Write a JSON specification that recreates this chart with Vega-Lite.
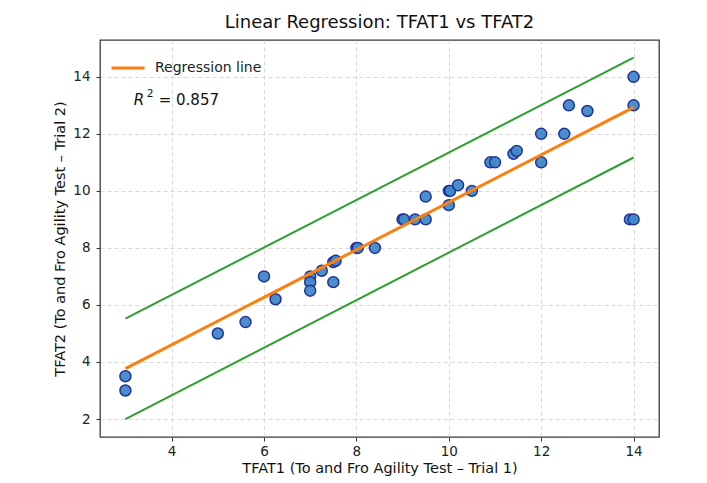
{
  "$schema": "https://vega.github.io/schema/vega-lite/v6.json",
  "autosize": "none",
  "width": 559,
  "height": 397,
  "padding": {"left": 100, "top": 40, "right": 48, "bottom": 46},
  "background": "white",
  "title": {"text": "Linear Regression: TFAT1 vs TFAT2", "fontSize": 18, "font": "DejaVu Sans", "fontWeight": "normal", "color": "#111", "anchor": "middle", "offset": 8},
  "config": {
    "font": "DejaVu Sans",
    "view": {"stroke": "#3a3a3a", "strokeWidth": 1.3},
    "axis": {
      "grid": true, "gridColor": "#cfcfcf", "gridDash": [4, 3], "gridWidth": 0.8,
      "domain": false, "tickColor": "#333", "tickSize": 4, "tickWidth": 1,
      "labelFontSize": 13.5, "labelColor": "#222", "labelFont": "DejaVu Sans",
      "titleFontSize": 14.5, "titleFontWeight": "normal", "titleColor": "#111", "titleFont": "DejaVu Sans"
    }
  },
  "datasets": {
    "points": [
      {"x": 3, "y": 3.5}, {"x": 3, "y": 3.0}, {"x": 5, "y": 5.0}, {"x": 5.6, "y": 5.4},
      {"x": 6, "y": 7.0}, {"x": 6.25, "y": 6.2}, {"x": 7, "y": 7.0}, {"x": 7, "y": 6.8},
      {"x": 7, "y": 6.5}, {"x": 7.25, "y": 7.2}, {"x": 7.5, "y": 7.5}, {"x": 7.55, "y": 7.55},
      {"x": 7.5, "y": 6.8}, {"x": 8, "y": 8.0}, {"x": 8.03, "y": 8.0}, {"x": 8.4, "y": 8.0},
      {"x": 9, "y": 9.0}, {"x": 9.03, "y": 9.0}, {"x": 9.27, "y": 9.0}, {"x": 9.5, "y": 9.0},
      {"x": 9.5, "y": 9.8}, {"x": 10, "y": 10.0}, {"x": 10.03, "y": 10.0}, {"x": 10, "y": 9.5},
      {"x": 10.2, "y": 10.2}, {"x": 10.5, "y": 10.0}, {"x": 10.9, "y": 11.0}, {"x": 11, "y": 11.0},
      {"x": 11.4, "y": 11.3}, {"x": 11.47, "y": 11.4}, {"x": 12, "y": 12.0}, {"x": 12, "y": 11.0},
      {"x": 12.5, "y": 12.0}, {"x": 12.6, "y": 13.0}, {"x": 13, "y": 12.8}, {"x": 14, "y": 14.0},
      {"x": 14, "y": 13.0}, {"x": 13.92, "y": 9.0}, {"x": 14, "y": 9.0}
    ],
    "fit": [
      {"x": 3, "y": 3.77, "series": "Regression line"},
      {"x": 14, "y": 12.93, "series": "Regression line"}
    ],
    "bands": [
      {"x": 3, "y": 5.52, "band": "upper"}, {"x": 14, "y": 14.67, "band": "upper"},
      {"x": 3, "y": 2.0, "band": "lower"}, {"x": 14, "y": 11.17, "band": "lower"}
    ],
    "label": [
      {"x": 3.18, "y": 13.18, "r": "R", "sup": "2", "rest": "= 0.857"}
    ]
  },
  "layer": [
    {
      "data": {"name": "bands"},
      "mark": {"type": "line", "color": "#2ca02c", "strokeWidth": 2},
      "encoding": {
        "x": {"field": "x", "type": "quantitative", "scale": {"domain": [2.45, 14.55], "nice": false, "zero": false},
              "axis": {"values": [4, 6, 8, 10, 12, 14], "title": "TFAT1 (To and Fro Agility Test – Trial 1)", "labelPadding": 3, "titlePadding": 4}},
        "y": {"field": "y", "type": "quantitative", "scale": {"domain": [1.37, 15.29], "nice": false, "zero": false},
              "axis": {"values": [2, 4, 6, 8, 10, 12, 14], "title": "TFAT2 (To and Fro Agility Test – Trial 2)", "labelPadding": 6, "titlePadding": 5}},
        "detail": {"field": "band"}
      }
    },
    {
      "data": {"name": "points"},
      "mark": {"type": "point", "filled": true, "fill": "#4088c8", "stroke": "#23329a", "strokeWidth": 1.5, "opacity": 1, "fillOpacity": 0.95, "size": 120},
      "encoding": {
        "x": {"field": "x", "type": "quantitative"},
        "y": {"field": "y", "type": "quantitative"}
      }
    },
    {
      "data": {"name": "fit"},
      "mark": {"type": "line", "strokeWidth": 3},
      "encoding": {
        "x": {"field": "x", "type": "quantitative"},
        "y": {"field": "y", "type": "quantitative"},
        "color": {"field": "series", "type": "nominal", "scale": {"range": ["#ff7f0e"]},
                  "legend": {"title": null, "orient": "top-left", "offset": 10, "symbolType": "stroke", "symbolSize": 1089, "symbolStrokeWidth": 3, "labelFontSize": 14, "labelColor": "#222", "labelOffset": 9}}
      }
    },
    {
      "data": {"name": "label"},
      "mark": {"type": "text", "fontSize": 15, "fontStyle": "italic", "align": "left", "baseline": "middle", "color": "#111"},
      "encoding": {
        "x": {"field": "x", "type": "quantitative"},
        "y": {"field": "y", "type": "quantitative"},
        "text": {"field": "r"}
      }
    },
    {
      "data": {"name": "label"},
      "mark": {"type": "text", "fontSize": 10.5, "align": "left", "baseline": "middle", "dx": 13, "dy": -6, "color": "#111"},
      "encoding": {
        "x": {"field": "x", "type": "quantitative"},
        "y": {"field": "y", "type": "quantitative"},
        "text": {"field": "sup"}
      }
    },
    {
      "data": {"name": "label"},
      "mark": {"type": "text", "fontSize": 15, "align": "left", "baseline": "middle", "dx": 25, "color": "#111"},
      "encoding": {
        "x": {"field": "x", "type": "quantitative"},
        "y": {"field": "y", "type": "quantitative"},
        "text": {"field": "rest"}
      }
    }
  ]
}
